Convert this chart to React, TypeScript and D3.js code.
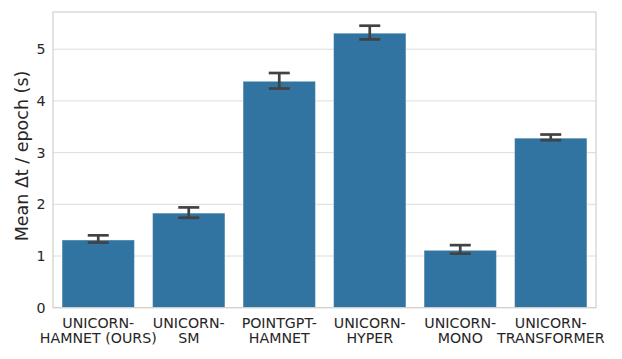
import React from "react";
import * as d3 from "d3";

const categories: string[][] = [
  ["UNICORN-", "HAMNET (OURS)"],
  ["UNICORN-", "SM"],
  ["POINTGPT-", "HAMNET"],
  ["UNICORN-", "HYPER"],
  ["UNICORN-", "MONO"],
  ["UNICORN-", "TRANSFORMER"],
];
const means = [1.31, 1.83, 4.38, 5.31, 1.11, 3.28];
const errLow = [1.26, 1.74, 4.24, 5.19, 1.045, 3.24];
const errHigh = [1.4, 1.94, 4.54, 5.455, 1.21, 3.35];
const yTicks = [0, 1, 2, 3, 4, 5];
const yLabel = "Mean Δt / epoch (s)";

const W = 622;
const H = 359;
const margin = { left: 53, top: 12, right: 26, bottom: 51.3 };

export default function App() {
  const iw = W - margin.left - margin.right;
  const ih = H - margin.top - margin.bottom;
  const x = d3
    .scaleBand<number>()
    .domain(categories.map((_, i) => i))
    .range([0, iw])
    .paddingInner(0.2)
    .paddingOuter(0.1);
  const y = d3.scaleLinear().domain([0, 5.72]).range([ih, 0]);
  const font = "DejaVu Sans, sans-serif";
  const textColor = "#262626";
  return (
    <svg
      width={W}
      height={H}
      style={{ position: "absolute", left: 0, top: 0 }}
    >
      <rect width={W} height={H} fill="#fff" />
      <g transform={`translate(${margin.left},${margin.top})`}>
        {yTicks.map((t) => (
          <g key={t}>
            <line x1={0} x2={iw} y1={y(t)} y2={y(t)} stroke="#dcdcdc" strokeWidth={1} />
            <text
              x={-7.5}
              y={y(t)}
              dy="0.36em"
              textAnchor="end"
              fontFamily={font}
              fontSize={14.2}
              fill={textColor}
            >
              {t}
            </text>
          </g>
        ))}
        {means.map((m, i) => {
          const bx = x(i)!;
          const cx = bx + x.bandwidth() / 2;
          return (
            <g key={i}>
              <rect
                x={bx}
                y={y(m)}
                width={x.bandwidth()}
                height={ih - y(m)}
                fill="#3274a1"
                stroke="#ffffff"
                strokeOpacity={0.4}
                strokeWidth={1}
              />
              <line x1={cx} x2={cx} y1={y(errLow[i])} y2={y(errHigh[i])} stroke="#424242" strokeWidth={2.7} />
              <line x1={cx - 10.5} x2={cx + 10.5} y1={y(errLow[i])} y2={y(errLow[i])} stroke="#424242" strokeWidth={2.7} />
              <line x1={cx - 10.5} x2={cx + 10.5} y1={y(errHigh[i])} y2={y(errHigh[i])} stroke="#424242" strokeWidth={2.7} />
              <text
                textAnchor="middle"
                fontFamily={font}
                fontSize={14.2}
                fill={textColor}
              >
                {categories[i].map((line, j) => (
                  <tspan key={j} x={cx} y={ih + 20 + j * 15.7}>
                    {line}
                  </tspan>
                ))}
              </text>
            </g>
          );
        })}
        <rect x={0} y={0} width={iw} height={ih} fill="none" stroke="#d0d0d0" strokeWidth={1.2} />
        <text
          transform={`translate(${-25.5},${144}) rotate(-90)`}
          textAnchor="middle"
          fontFamily={font}
          fontSize={17.5}
          fill={textColor}
        >
          {yLabel}
        </text>
      </g>
    </svg>
  );
}
